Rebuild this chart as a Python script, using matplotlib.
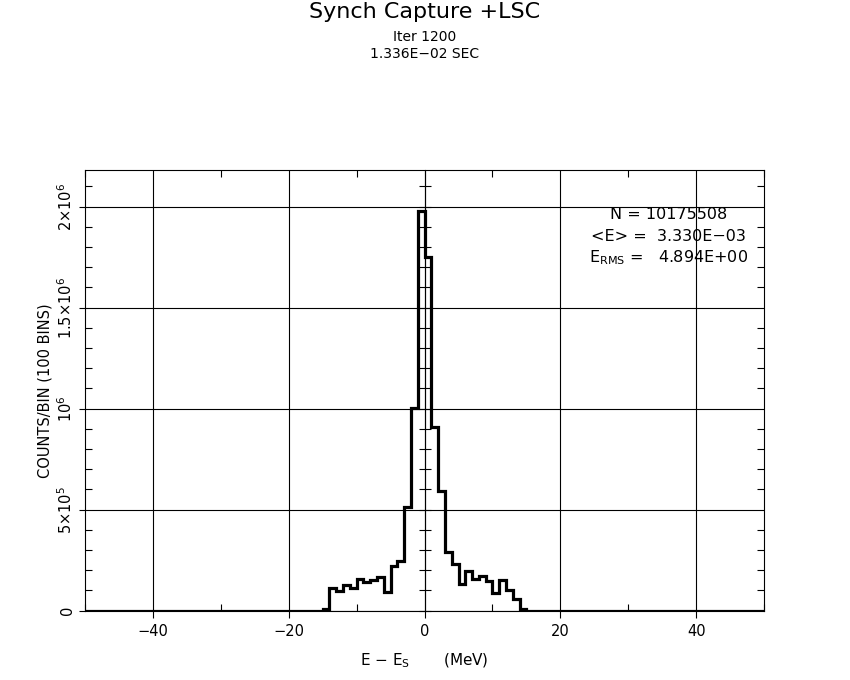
import numpy as np
import matplotlib
matplotlib.use("Agg")
import matplotlib.pyplot as plt
from matplotlib.ticker import MultipleLocator, FixedLocator, NullFormatter

# ---- data ----
x_min, x_max, n_bins = -50.0, 50.0, 100
first_nonzero_bin = -15          # left edge (MeV) of first non-empty bin
counts_nonzero = [6e3, 112e3, 96e3, 125e3, 109e3, 155e3, 139e3, 152e3, 168e3, 92e3,
                  221e3, 244e3, 515e3, 1.002e6, 1.98e6, 1.752e6, 0.908e6, 0.594e6, 290e3, 228e3,
                  132e3, 198e3, 155e3, 172e3, 145e3, 89e3, 149e3, 102e3, 59e3, 7e3]
x_major = [-40, -20, 0, 20, 40]
x_major_labels = ["\u221240", "\u221220", "0", "20", "40"]
y_major = [0, 5e5, 1e6, 1.5e6, 2e6]
y_major_labels = ["0", r"$5{\times}10^{5}$", r"$10^{6}$", r"$1.5{\times}10^{6}$", r"$2{\times}10^{6}$"]
y_top = 2.18e6
title = "Synch Capture +LSC"
subtitle1 = "Iter 1200"
subtitle2 = "1.336E\u221202 SEC"
stats_lines = ["N = 10175508", "<E> =  3.330E\u221203", r"E$_{\rm RMS}$ =   4.894E+00"]

edges = np.linspace(x_min, x_max, n_bins + 1)
counts = np.zeros(n_bins)
start = int(round(first_nonzero_bin - x_min))
counts[start:start + len(counts_nonzero)] = counts_nonzero

plt.rcParams['font.family'] = ['DejaVu Sans']
plt.rcParams['mathtext.fontset'] = 'dejavusans'

fig = plt.figure(figsize=(8.5, 6.8), dpi=100)
fig.patch.set_facecolor('white')
ax = fig.add_axes([0.1, 0.1022, 0.799, 0.6474])

ax.stairs(counts, edges, color='black', linewidth=2.3, zorder=3)

ax.set_xlim(x_min, x_max)
ax.set_ylim(0, y_top)

ax.set_xticks(x_major)
ax.set_xticklabels(x_major_labels)
ax.xaxis.set_minor_locator(MultipleLocator(10))
ax.set_yticks(y_major)
ax.set_yticklabels(y_major_labels)
ax.yaxis.set_minor_locator(MultipleLocator(1e5))

ax.grid(True, which='major', color='black', linewidth=0.8, zorder=1)
for s in ax.spines.values():
    s.set_linewidth(0.8)
    s.set_color('black')

ax.tick_params(axis='x', which='major', direction='out', length=5, width=0.8,
               bottom=True, top=False, labelsize=10.5, pad=5)
ax.tick_params(axis='x', which='minor', direction='in', length=5, width=0.8,
               bottom=True, top=True)
ax.tick_params(axis='y', which='major', direction='out', length=4, width=0.8,
               left=True, right=False, labelsize=10.5, labelrotation=90, pad=3)
ax.tick_params(axis='y', which='minor', direction='in', length=5, width=0.8,
               left=True, right=True)
for lab in ax.get_yticklabels():
    lab.set_va('center')

# crossing ticks along the E = 0 line
sec = ax.secondary_yaxis(0.5)
sec.yaxis.set_major_locator(FixedLocator(y_major))
sec.yaxis.set_minor_locator(MultipleLocator(1e5))
sec.yaxis.set_major_formatter(NullFormatter())
sec.yaxis.set_minor_formatter(NullFormatter())
sec.yaxis.get_offset_text().set_visible(False)
sec.tick_params(which='both', direction='inout', length=9, width=0.8,
                labelleft=False, labelright=False)
for s in sec.spines.values():
    s.set_linewidth(0.8)

ax.set_ylabel("COUNTS/BIN (100 BINS)", fontsize=10.5, labelpad=3)
ax.set_xlabel(r"E $-$ E$_{\rm S}$       (MeV)", fontsize=11, labelpad=9)

for txt, yy in zip(stats_lines, [0.899, 0.849, 0.801]):
    ax.text(0.859, yy, txt, transform=ax.transAxes, ha='center', va='center',
            fontsize=11.5, zorder=4)

fig.text(0.5, 0.982, title, ha='center', va='center', fontsize=16)
fig.text(0.5, 0.946, subtitle1, ha='center', va='center', fontsize=10)
fig.text(0.5, 0.921, subtitle2, ha='center', va='center', fontsize=10)

fig.savefig("out.png", dpi=100, facecolor='white')
